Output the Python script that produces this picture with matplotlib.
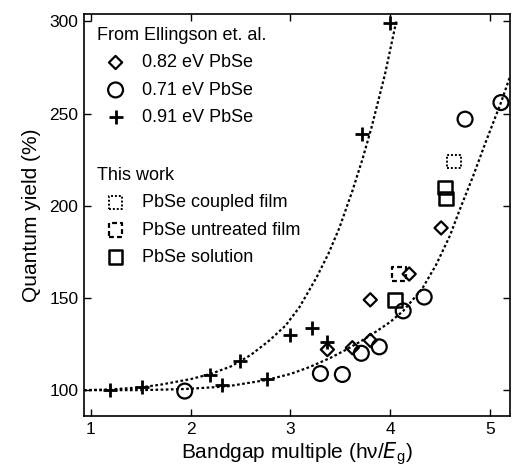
import numpy as np
import matplotlib.pyplot as plt

plt.rcParams['font.family'] = ['Liberation Sans', 'DejaVu Sans']

# ---- data ----
# Ellingson et al.
x_082 = [3.37, 3.62, 3.80, 3.80, 4.19, 4.51]
y_082 = [122, 123, 127, 149, 163, 188]

x_071 = [1.94, 3.30, 3.52, 3.71, 3.89, 4.13, 4.34, 4.75, 5.11]
y_071 = [99.5, 109, 108.5, 120, 123.5, 143, 150.5, 247, 256]

x_091 = [1.19, 1.51, 2.19, 2.31, 2.49, 2.76, 3.00, 3.22, 3.37, 3.72, 4.00]
y_091 = [100, 101.5, 108, 103, 116, 106, 130, 133.5, 126, 239, 299]

# this work
x_coupled = [4.64]
y_coupled = [224]
x_untreated = [4.09]
y_untreated = [163]
x_solution = [4.05, 4.55, 4.56]
y_solution = [149, 210, 204]

# dotted fit curves
fit1_x = [0.93, 1.2, 1.5, 1.7, 2.0, 2.2, 2.4, 2.6, 2.79, 2.95, 3.09, 3.26, 3.38, 3.49,
          3.62, 3.72, 3.81, 3.95, 4.06]
fit1_y = [100, 100.4, 101.5, 103, 106, 108.8, 112.8, 119, 127, 135, 145, 161, 174, 188,
          208, 225, 242, 272, 300]
fit2_x = [0.93, 1.5, 1.94, 2.36, 2.76, 3.0, 3.19, 3.4, 3.56, 3.72, 3.85, 4.0, 4.13, 4.32,
          4.46, 4.6, 4.69, 4.83, 4.96, 5.11, 5.2]
fit2_y = [100, 100, 100.6, 102, 105.5, 108.8, 112.5, 117.5, 122, 127, 131.5, 137, 143, 155,
          168, 184, 197, 216, 235, 256, 270]

fig = plt.figure(figsize=(5.12, 4.70), dpi=100)
ax = fig.add_axes([0.164, 0.115, 0.832, 0.855])

ax.plot(fit1_x, fit1_y, color='k', ls=(0, (1.2, 1.1)), lw=1.6)
ax.plot(fit2_x, fit2_y, color='k', ls=(0, (1.2, 1.1)), lw=1.6)

kw = dict(facecolors='none', edgecolors='k', zorder=3)
h1 = ax.scatter(x_082, y_082, marker='D', s=45, linewidths=1.6, label='0.82 eV PbSe', **kw)
h2 = ax.scatter(x_071, y_071, marker='o', s=115, linewidths=1.6, label='0.71 eV PbSe', **kw)
h3 = ax.scatter(x_091, y_091, marker='+', s=110, linewidths=2, color='k', zorder=3,
                label='0.91 eV PbSe')
h4 = ax.scatter(x_coupled, y_coupled, marker='s', s=95, linewidths=1.4,
                linestyles=(0, (1, 1)), label='PbSe coupled film', **kw)
h5 = ax.scatter(x_untreated, y_untreated, marker='s', s=95, linewidths=1.6,
                linestyles=(0, (2.2, 1.4)), label='PbSe untreated film', **kw)
h6 = ax.scatter(x_solution, y_solution, marker='s', s=95, linewidths=1.8,
                label='PbSe solution', **kw)

ax.set_xlim(0.93, 5.2)
ax.set_ylim(86, 304)
ax.set_xticks([1, 2, 3, 4, 5])
ax.set_yticks([100, 150, 200, 250, 300])
ax.tick_params(direction='in', top=True, right=True, labelsize=12.5, length=5, width=1,
               pad=4)
for s in ax.spines.values():
    s.set_linewidth(1.2)

ax.set_xlabel('Bandgap multiple (h\u03bd/$\\it{E}$$_\\mathregular{g}$)', fontsize=15,
              labelpad=3)
ax.set_ylabel('Quantum yield (%)', fontsize=15, labelpad=6)

legkw = dict(loc='upper left', frameon=False, fontsize=13, title_fontsize=13,
             alignment='left', labelspacing=0.58, handletextpad=0.42, handlelength=2.1,
             borderaxespad=0.3)
leg1 = ax.legend(handles=[h1, h2, h3], title='From Ellingson et. al.',
                 bbox_to_anchor=(0.0, 1.0), **legkw)
ax.add_artist(leg1)
ax.legend(handles=[h4, h5, h6], title='This work', bbox_to_anchor=(0.0, 0.652), **legkw)

fig.savefig('out.png', dpi=100)
